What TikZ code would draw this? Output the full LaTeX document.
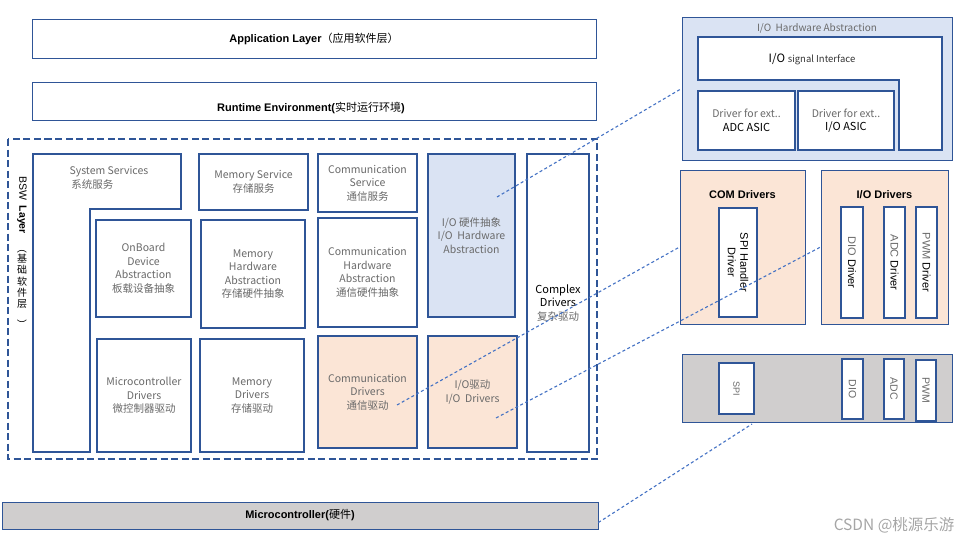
\documentclass[tikz,border=0pt]{standalone}
\usepackage{fontspec}
\setmainfont{Liberation Sans}
\newfontfamily\yh{Noto Sans CJK SC}

\definecolor{edgeblue}{HTML}{2F5597}
\definecolor{lineblue}{HTML}{4472C4}
\definecolor{peach}{HTML}{FBE5D6}
\definecolor{paleblue}{HTML}{DAE3F3}
\definecolor{chipgray}{HTML}{D0CECE}
\definecolor{labelgray}{HTML}{6A6A6A}
\newcommand{\darktext}[1]{{\color{black}\fontsize{11}{13.5}\selectfont #1}}

\begin{document}
\begin{tikzpicture}[x=1pt, y=-1pt,
  layerbox/.style={draw=edgeblue, line width=0.8pt, inner sep=0pt},
  headtext/.style={font=\bfseries\fontsize{11}{12}\selectfont},
  modbox/.style={draw=edgeblue, line width=2pt, fill=white, inner sep=1pt, align=center,
    text=labelgray, font=\yh\fontsize{10.5}{13.5}\selectfont},
  slotbox/.style={draw=edgeblue, line width=2pt, fill=white, inner sep=0pt, rotate=-90, align=center},
  linkline/.style={draw=lineblue, line width=1.1pt, dash pattern=on 3pt off 2.5pt}]
  \useasboundingbox (0,0) rectangle (975,544);

  % layers
  \node[layerbox, headtext, minimum width=564, minimum height=39] (app) at (314,38.5)
    {Application Layer{\yh\mdseries（应用软件层）}};
  \node[layerbox, minimum width=564, minimum height=38] (rte) at (314,101) {};
  \node[headtext] (rtetxt) at (311,108) {Runtime Environment({\yh\mdseries 实时运行环境})};
  \node[layerbox, headtext, fill=chipgray, minimum width=596, minimum height=27] (mcu) at (300,515.5)
    {Microcontroller({\yh\mdseries 硬件})};

  % BSW layer
  \draw[edgeblue, line width=2.4pt, dash pattern=on 7pt off 3.5pt] (8,139) rectangle (597,459);
  \node[rotate=-90, font=\fontsize{10.5}{12}\selectfont] (bswlbl) at (22,205) {BSW\ \ \textbf{Layer}};
  \node[anchor=north, align=center, inner sep=0pt, font=\yh\fontsize{10}{11.3}\selectfont] (bswcn) at (22,243)
    {\rotatebox{-90}{（}\\基\\础\\软\\件\\层\\\rotatebox{-90}{）}};

  \draw[edgeblue, line width=2pt, fill=white] (33,154) -- (181,154) -- (181,209) -- (90,209)
    -- (90,452) -- (33,452) -- cycle;
  \node[anchor=west, align=left, text=labelgray, font=\yh\fontsize{10.5}{13.5}\selectfont] (syssrv) at (66,178)
    {System Services\\\,系统服务};
  \node[modbox, minimum width=109, minimum height=56] (memsrv) at (253.5,182) {Memory Service\\存储服务};
  \node[modbox, minimum width=95, minimum height=97] (onboard) at (143.5,268.5) {OnBoard\\Device\\Abstraction\\板载设备抽象};
  \node[modbox, minimum width=104, minimum height=108] (memhw) at (253,274) {Memory\\Hardware\\Abstraction\\存储硬件抽象};
  \node[modbox, minimum width=94, minimum height=113] (mcudrv) at (144,395.5) {Microcontroller\\Drivers\\微控制器驱动};
  \node[modbox, minimum width=104, minimum height=113] (memdrv) at (252,395.5) {Memory\\Drivers\\存储驱动};
  \node[modbox, minimum width=99, minimum height=58] (comsrv) at (367.5,183) {Communication\\Service\\通信服务};
  \node[modbox, minimum width=99, minimum height=109] (comhw) at (367.5,272.5) {Communication\\Hardware\\Abstraction\\通信硬件抽象};
  \node[modbox, fill=peach, minimum width=99, minimum height=112] (comdrv) at (367.5,392) {Communication\\Drivers\\通信驱动};
  \node[modbox, fill=paleblue, minimum width=87, minimum height=163] (iohw) at (471.5,235.5) {I/O 硬件抽象\\I/O\ \ Hardware\\Abstraction};
  \node[modbox, fill=peach, minimum width=89, minimum height=112] (iodrv) at (472.5,392) {I/O驱动\\I/O\ \ Drivers};
  \node[modbox, minimum width=62, minimum height=298] (cdd) at (558,303)
    {\darktext{Complex}\\\darktext{Drivers}\\复杂驱动};

  % I/O hardware abstraction, detail
  \node[layerbox, fill=paleblue, minimum width=270, minimum height=143] (rhw) at (817,88.5) {};
  \node[text=labelgray, font=\yh\fontsize{10}{12}\selectfont] (rhwtitle) at (817,28) {I/O\ \ Hardware Abstraction};
  \draw[edgeblue, line width=2pt, fill=white] (698,37) -- (942,37) -- (942,150) -- (899,150)
    -- (899,80) -- (698,80) -- cycle;
  \node (sigif) at (812,59) {{\yh\fontsize{11.5}{12}\selectfont I/O} {\yh\fontsize{9.5}{12}\selectfont\color{black!80} signal Interface}};
  \node[modbox, minimum width=97, minimum height=59] (extadc) at (746.5,120.5)
    {Driver for ext..\\\darktext{ADC ASIC}};
  \node[modbox, minimum width=96, minimum height=59] (extio) at (846,120.5)
    {Driver for ext..\\\darktext{I/O ASIC}};

  % COM and I/O drivers, detail
  \node[layerbox, fill=peach, minimum width=125, minimum height=154] (rcom) at (742.5,247) {};
  \node[font=\bfseries\fontsize{11}{12}\selectfont] (rcomtitle) at (742.5,195) {COM Drivers};
  \node[slotbox, minimum width=109, minimum height=38, font=\fontsize{11}{12.5}\selectfont] (spihd) at (738,262.5)
    {SPI Handler\\Driver};
  \node[layerbox, fill=peach, minimum width=127, minimum height=154] (rio) at (884.5,247) {};
  \node[font=\bfseries\fontsize{11}{12}\selectfont] (riotitle) at (884.5,195) {I/O Drivers};
  \foreach \n/\x in {DIO/852, ADC/894.5, PWM/926.5}
    \node[slotbox, minimum width=111, minimum height=21.5, font=\fontsize{11}{12}\selectfont] (drv\n) at (\x,262.5)
      {{\color{labelgray}\n} Driver};

  % microcontroller peripherals
  \node[layerbox, fill=chipgray, minimum width=270, minimum height=68] (mcal) at (817,388) {};
  \node[slotbox, minimum width=51, minimum height=35, text=labelgray, font=\fontsize{9}{11}\selectfont] (pinSPI) at (736.5,388.5) {SPI};
  \foreach \n/\x/\y/\h in {DIO/852.5/389/60, ADC/894/389/60, PWM/926/390.5/61}
    \node[slotbox, minimum width=\h, minimum height=20.5, text=labelgray, font=\fontsize{10.5}{12}\selectfont] (pin\n) at (\x,\y) {\n};

  \node[anchor=east, text=black!35, font=\yh\fontsize{15.5}{18}\selectfont] (mark) at (958,525) {CSDN @桃源乐游};

  % dotted links to the detail views
  \coordinate (iohwpt) at (497,197);
  \coordinate (comdrvpt) at (397,405);
  \coordinate (iodrvpt) at (496,418);
  \coordinate (mcalpt) at (752,424);
  \draw[linkline] (iohwpt) -- (rhw.west);
  \draw[linkline] (comdrvpt) -- (rcom.west);
  \draw[linkline] (iodrvpt) -- (rio.west);
  \draw[linkline] ([yshift=-7pt]mcu.east) -- (mcalpt);
\end{tikzpicture}
\end{document}
